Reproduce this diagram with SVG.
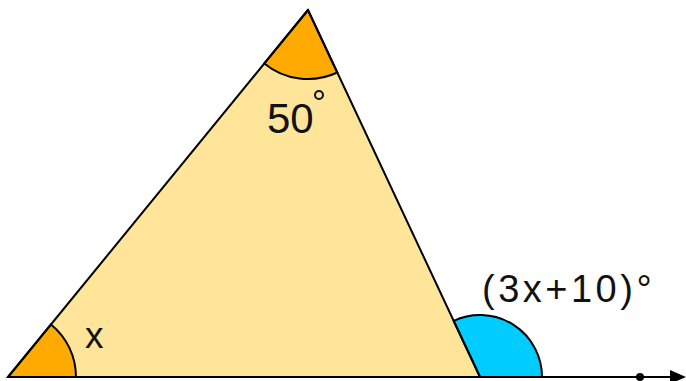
<svg xmlns="http://www.w3.org/2000/svg" width="686" height="381" viewBox="0 0 686 381">
<style>
.ln{fill:none;stroke:#000;stroke-width:2;stroke-linejoin:round}
.org{fill:#FFAA00;stroke:#000;stroke-width:2}
.blu{fill:#00CCFF;stroke:#000;stroke-width:2}
.lbl{font-family:"Liberation Sans",Arial,sans-serif;fill:#111}
</style>
<rect width="686" height="381" fill="#fff"/>
<g id="triangle">
<polygon points="8,377 308,10 480,377" fill="#FFE599"/>
</g>
<g id="angle-top">
<path class="org" d="M308,10 L264.3,63.4 A69,69 0 0 0 337.3,72.5 Z"/>
</g>
<g id="angle-left">
<path class="org" d="M8,377 L76,377 A68,68 0 0 0 51,324.4 Z"/>
</g>
<g id="angle-exterior">
<path class="blu" d="M480,377 L542,377 A62,62 0 0 0 453.7,320.9 Z"/>
</g>
<g id="connectors">
<polyline class="ln" points="8,377 308,10 480,377"/>
<line class="ln" x1="7" y1="377" x2="674" y2="377"/>
<polygon points="670,370 686,377 670,384" fill="#000"/>
<circle cx="640" cy="377" r="4" fill="#000"/>
</g>
<g id="labels">
<text class="lbl" x="267" y="133" font-size="42">50</text>
<circle cx="319" cy="95" r="4" fill="none" stroke="#111" stroke-width="2"/>
<text class="lbl" x="85" y="348" font-size="37">x</text>
<text class="lbl" x="482" y="302" font-size="38" letter-spacing="3.5">(3x+10)°</text>
</g>
</svg>
